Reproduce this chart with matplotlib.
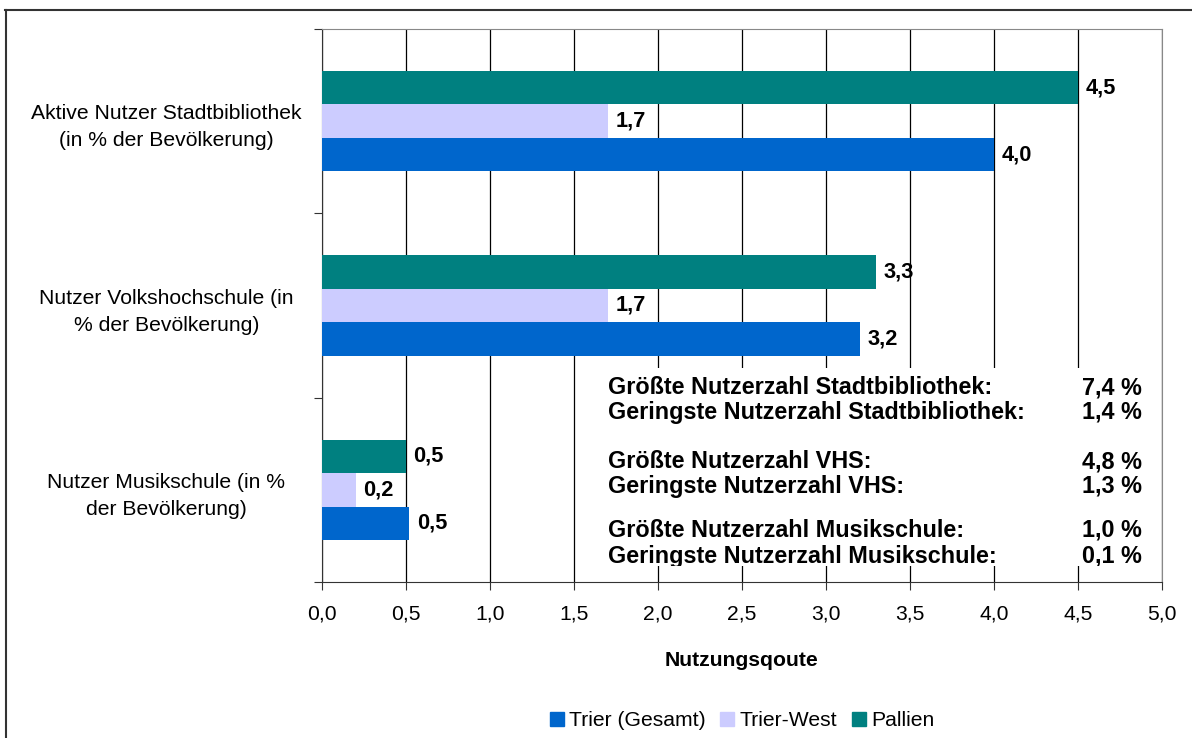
import matplotlib
matplotlib.use("Agg")
import matplotlib.pyplot as plt
from matplotlib.lines import Line2D
from matplotlib.patches import Rectangle
from matplotlib.transforms import Bbox, TransformedBbox
import numpy as np

plt.rcParams['font.family'] = ['Liberation Sans', 'DejaVu Sans']

categories = ["Aktive Nutzer Stadtbibliothek\n(in % der Bevölkerung)",
              "Nutzer Volkshochschule (in\n% der Bevölkerung)",
              "Nutzer Musikschule (in %\nder Bevölkerung)"]
series = ["Trier (Gesamt)", "Trier-West", "Pallien"]
trier = [4.0, 3.2, 0.52]
trier_west = [1.7, 1.7, 0.2]
pallien = [4.5, 3.3, 0.5]
colors = ["#0066CC", "#CCCCFF", "#008080"]

info_labels = ["Größte Nutzerzahl Stadtbibliothek:", "Geringste Nutzerzahl Stadtbibliothek:",
               "Größte Nutzerzahl VHS:", "Geringste Nutzerzahl VHS:",
               "Größte Nutzerzahl Musikschule:", "Geringste Nutzerzahl Musikschule:"]
info_values = ["7,4 %", "1,4 %", "4,8 %", "1,3 %", "1,0 %", "0,1 %"]

W, H = 1192, 738
fig = plt.figure(figsize=(W / 100, H / 100), dpi=100)
ax = fig.add_axes([322 / W, 1 - 582 / H, 840 / W, 553 / H])

def fx(px):
    return px / W

def fy(py):
    return 1 - py / H

fs = 15.2

y = np.array([2, 1, 0])
h = 0.182
for vals, off, col in zip([trier, trier_west, pallien], [-h, 0, h], colors):
    bars = ax.barh(y + off, vals, height=h, color=col, zorder=3)
    for b, v in zip(bars, vals):
        ax.text(v + 0.045, b.get_y() + h / 2, f"{v:.1f}".replace('.', ','),
                va='center', ha='left', fontsize=fs + 0.5, fontweight='bold', zorder=4)

ax.set_xlim(0, 5)
ax.set_ylim(-0.5, 2.5)
xt = np.arange(0, 5.01, 0.5)
ax.set_xticks(xt)
ax.set_xticklabels([f"{v:.1f}".replace('.', ',') for v in xt], fontsize=fs)
ax.xaxis.grid(True, color='#000000', linewidth=0.9, zorder=0)
ax.set_axisbelow(True)

ax.set_yticks([-0.5, 0.5, 1.5, 2.5])
ax.set_yticklabels([])
ax.set_yticks(y, minor=True)
ax.set_yticklabels(categories, minor=True, fontsize=fs, ha='center',
                   multialignment='center', linespacing=1.55)
ax.tick_params(axis='y', which='minor', length=0, pad=112)
ax.tick_params(axis='both', which='major', direction='out', length=6, color='#333333')
ax.tick_params(axis='x', which='major', pad=10)

for s in ['top', 'right']:
    ax.spines[s].set_color('#888888')
for s in ['left', 'bottom']:
    ax.spines[s].set_color('#333333')

ax.set_xlabel("Nutzungsqoute", fontsize=fs, fontweight='bold', labelpad=20)

# info box
ax.add_artist(Rectangle((fx(600), fy(566)), fx(1160) - fx(600), fy(368) - fy(566),
                        transform=fig.transFigure, facecolor='white', edgecolor='none', zorder=5))
clip = TransformedBbox(Bbox([[fx(600), fy(566)], [fx(1160), fy(368)]]), fig.transFigure)
line_y = [394, 419, 468, 493, 537, 563]
for lab, val, py in zip(info_labels, info_values, line_y):
    for tx, s, ha in [(608, lab, 'left'), (1142, val, 'right')]:
        t = fig.text(fx(tx), fy(py), s, fontsize=16.8, fontweight='bold',
                     va='baseline', ha=ha, zorder=6)
        t.set_clip_box(clip)
        t.set_clip_on(True)

# legend
handles = [Rectangle((0, 0), 1, 1, color=c) for c in colors]
fig.legend(handles, series, loc='center', bbox_to_anchor=(fx(742), fy(721)), ncol=3,
           frameon=False, fontsize=fs, handlelength=0.65, handleheight=0.65,
           handletextpad=0.25, columnspacing=0.7)

# outer chart frame
fig.add_artist(Line2D([fx(6), fx(6)], [fy(10), 0], color='#333333', linewidth=1.5))
fig.add_artist(Line2D([fx(5), 1], [fy(10), fy(10)], color='#333333', linewidth=1.5))

fig.savefig("out.png", dpi=100)
